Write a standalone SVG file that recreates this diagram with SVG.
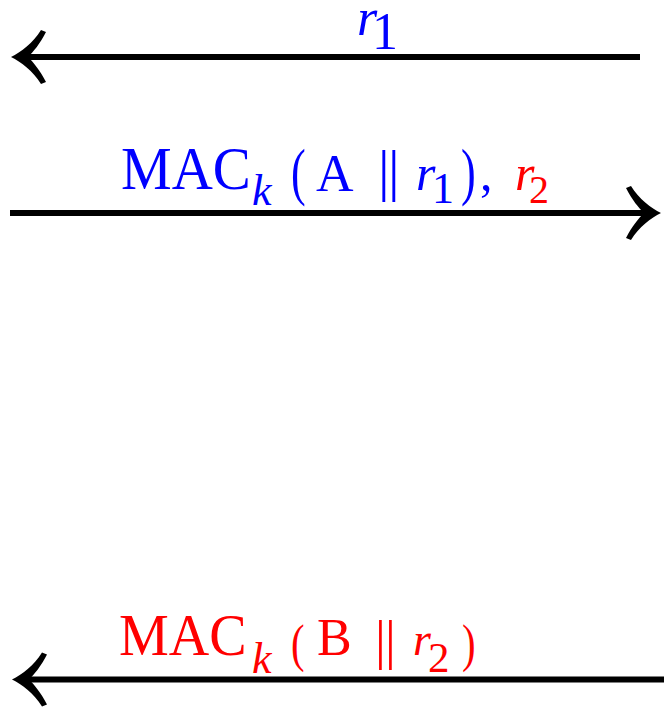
<svg xmlns="http://www.w3.org/2000/svg" width="664" height="707" viewBox="0 0 664 707">
<style>
.ln{stroke:#000;stroke-width:6;fill:none}
.ah{fill:#000}
text{font-family:"Liberation Serif","Times New Roman",serif}
.it{font-style:italic}
.b{fill:#0000ff}
.r{fill:#ff0000}
</style>
<defs>
<path id="head" d="M0 0 C10 -5 22 -14 30 -27 L35 -25 C29 -13 22 -5 17 0 C22 5 29 13 35 25 L30 27 C22 14 10 5 0 0 Z"/>
</defs>
<g id="connectors">
<line class="ln" x1="22" y1="57" x2="640" y2="57"/>
<use href="#head" class="ah" transform="translate(11,57)"/>
<line class="ln" x1="10" y1="213" x2="650" y2="213"/>
<use href="#head" class="ah" transform="translate(661,213) scale(-1,1)"/>
<line class="ln" x1="22" y1="679.5" x2="664" y2="679.5"/>
<use href="#head" class="ah" transform="translate(12,679.5)"/>
</g>
<g id="label1" class="b">
<text x="357" y="35" font-size="52" class="it">r</text>
<text x="372" y="49" font-size="52">1</text>
</g>
<g id="label2">
<text transform="translate(121,189) scale(1,1.08)" font-size="57" class="b">MAC</text>
<text x="252" y="205" font-size="44" class="it b">k</text>
<text transform="translate(291,193) scale(0.85,1.2)" font-size="52" class="b">(</text>
<text x="316" y="191" font-size="52" class="b">A</text>
<text x="378" y="190" font-size="58" class="b"><tspan x="378">|</tspan><tspan x="388">|</tspan></text>
<text x="416" y="190" font-size="50" class="it b">r</text>
<text x="432" y="203" font-size="44" class="b">1</text>
<text transform="translate(461,193) scale(0.85,1.2)" font-size="52" class="b">)</text>
<text x="480" y="190" font-size="50" class="b">,</text>
<text x="515" y="190" font-size="50" class="it r">r</text>
<text x="529" y="203" font-size="40" class="r">2</text>
</g>
<g id="label3" class="r">
<text transform="translate(119,655) scale(1,1.04)" font-size="56">MAC</text>
<text x="252" y="673" font-size="44" class="it">k</text>
<text transform="translate(291,661) scale(0.85,1.1)" font-size="48">(</text>
<text x="317" y="655" font-size="52">B</text>
<text x="374" y="658" font-size="54"><tspan x="375">|</tspan><tspan x="385">|</tspan></text>
<text x="413" y="655" font-size="46" class="it">r</text>
<text x="428" y="672" font-size="43">2</text>
<text transform="translate(462,661) scale(0.85,1.1)" font-size="48">)</text>
</g>
</svg>
